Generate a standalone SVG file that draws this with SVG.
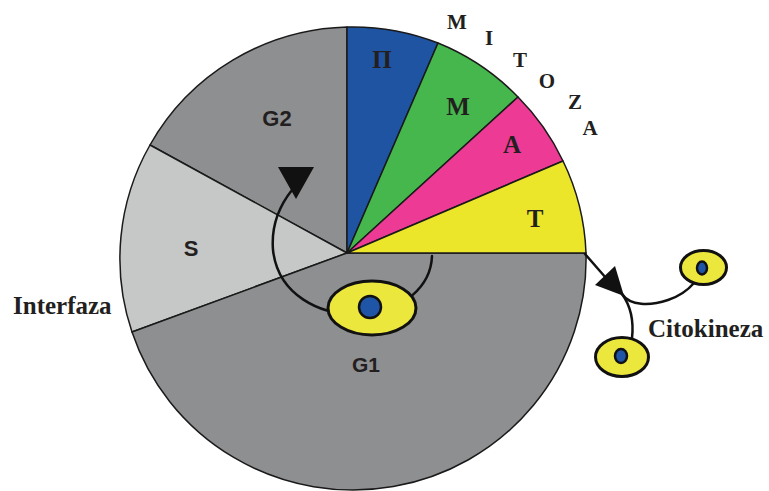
<svg xmlns="http://www.w3.org/2000/svg" width="769" height="491" viewBox="0 0 769 491">
  <style>
    .sector { stroke: #1a1a1a; stroke-width: 1.5; stroke-linejoin: round; }
    .g { fill: #8e8f91; }
    .s { fill: #c6c7c7; }
    .pro { fill: #1f54a3; }
    .meta { fill: #46b74c; }
    .ana { fill: #ec3a95; }
    .telo { fill: #ece62b; }
    .cell { fill: #ece73c; stroke: #111; stroke-width: 3; }
    .nuc { fill: #1f55a6; stroke: #111; stroke-width: 2.5; }
    .conn { fill: none; stroke: #111; stroke-width: 2.5; stroke-linecap: round; }
    .head { fill: #111; }
    .serif { font-family: "Liberation Serif", "Times New Roman", serif; font-weight: bold; fill: #231f20; }
    .sans { font-family: "Liberation Sans", Arial, sans-serif; font-weight: bold; fill: #231f20; }
  </style>

  <!-- interphase sectors -->
  <g id="g2">
    <path class="sector g" d="M347,253 L150,145 A233,231 0 0 1 347,27 Z"/>
    <text class="sans" x="277" y="126" font-size="22" text-anchor="middle">G2</text>
  </g>
  <g id="s">
    <path class="sector s" d="M347,253 L132,332 A233,231 0 0 1 150,145 Z"/>
    <text class="sans" x="191" y="256" font-size="22" text-anchor="middle">S</text>
  </g>
  <g id="g1">
    <path class="sector g" d="M347,253 L586,253 A233,231 0 0 1 132,332 Z"/>
    <text class="sans" x="366" y="372" font-size="21" text-anchor="middle">G1</text>
  </g>

  <!-- mitosis sectors -->
  <g id="profaza">
    <path class="sector pro" d="M347,253 L347,27 A233,231 0 0 1 438,43 Z"/>
    <text class="serif" x="382" y="68" font-size="25" text-anchor="middle">П</text>
  </g>
  <g id="metafaza">
    <path class="sector meta" d="M347,253 L438,43 A233,231 0 0 1 518,97 Z"/>
    <text class="serif" x="458" y="115" font-size="25" text-anchor="middle">M</text>
  </g>
  <g id="anafaza">
    <path class="sector ana" d="M347,253 L518,97 A233,231 0 0 1 563,161 Z"/>
    <text class="serif" x="512" y="153" font-size="25" text-anchor="middle">A</text>
  </g>
  <g id="telofaza">
    <path class="sector telo" d="M347,253 L563,161 A233,231 0 0 1 586,253 Z"/>
    <text class="serif" x="535" y="227" font-size="25" text-anchor="middle">T</text>
  </g>

  <!-- connectors -->
  <g id="connectors">
    <path class="conn" d="M432,256 C431,285 405,312 360,314 C320,316 278,295 273,250 C271,225 280,205 292,190"/>
    <polygon class="head" points="278,167 314,167 296,199"/>
    <path class="conn" d="M585,254 L606,278"/>
    <polygon class="head" points="595,285 615,266 624,296"/>
    <path class="conn" d="M622,294 C630,306 650,306 668,300 C680,296 688,290 694,283"/>
    <path class="conn" d="M622,294 C630,305 634,320 632,338"/>
  </g>

  <!-- cells -->
  <g id="cell-g1">
    <ellipse class="cell" cx="372" cy="308" rx="44" ry="27"/>
    <circle class="nuc" cx="370" cy="307" r="11"/>
  </g>
  <g id="cell-upper">
    <ellipse class="cell" cx="703.5" cy="267.5" rx="23" ry="17"/>
    <ellipse class="nuc" cx="702" cy="268" rx="5" ry="6.5"/>
  </g>
  <g id="cell-lower">
    <ellipse class="cell" cx="622" cy="357" rx="26.5" ry="19.5"/>
    <ellipse class="nuc" cx="621" cy="356" rx="6" ry="7"/>
  </g>

  <!-- outer labels -->
  <g id="mitoza">
    <text class="serif" x="457" y="29" font-size="21" text-anchor="middle">M</text>
    <text class="serif" x="489" y="45" font-size="21" text-anchor="middle">I</text>
    <text class="serif" x="520" y="67" font-size="21" text-anchor="middle">T</text>
    <text class="serif" x="547" y="88" font-size="21" text-anchor="middle">O</text>
    <text class="serif" x="575" y="109" font-size="21" text-anchor="middle">Z</text>
    <text class="serif" x="590" y="135" font-size="21" text-anchor="middle">A</text>
  </g>
  <g id="interfaza">
    <text class="serif" x="13" y="314" font-size="25">Interfaza</text>
  </g>
  <g id="citokineza">
    <text class="serif" x="648" y="337" font-size="25">Citokineza</text>
  </g>
</svg>
